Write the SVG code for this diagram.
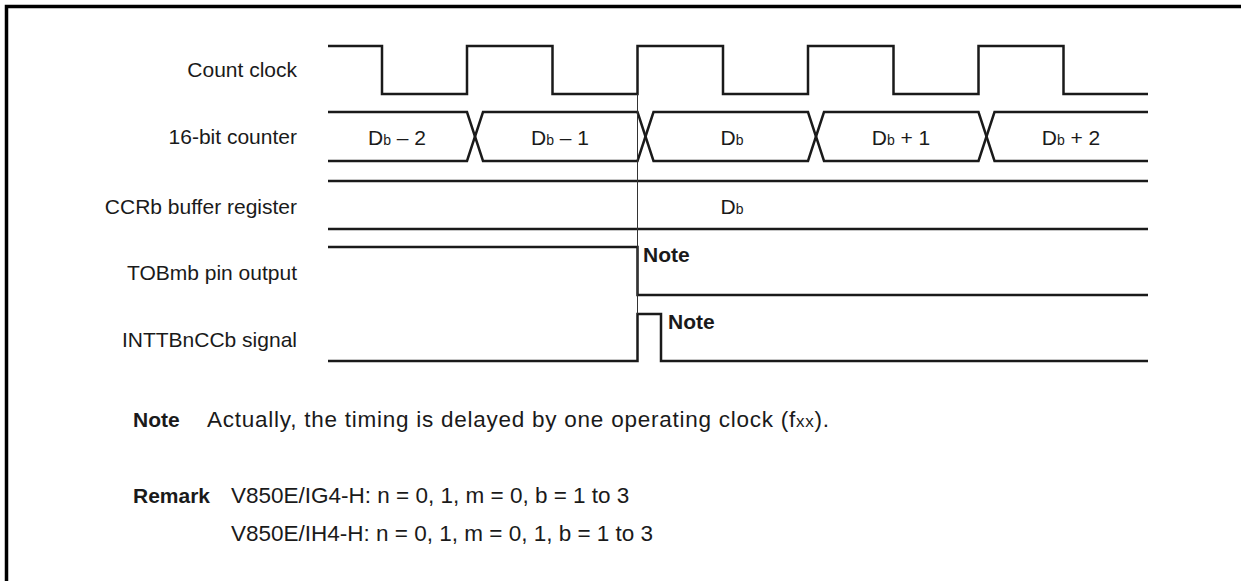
<svg xmlns="http://www.w3.org/2000/svg" width="1241" height="581" viewBox="0 0 1241 581">
<style>
.sig{fill:none;stroke:#1a1a1a;stroke-width:2.5;stroke-linejoin:miter}
.thin{fill:none;stroke:#333;stroke-width:1}
.lbl{font-family:"Liberation Sans",Arial,sans-serif;font-size:21px;fill:#1a1a1a;text-anchor:end}
.val{font-family:"Liberation Sans",Arial,sans-serif;font-size:21px;fill:#1a1a1a;text-anchor:middle}
.txt{font-family:"Liberation Sans",Arial,sans-serif;font-size:21px;fill:#1a1a1a}
.body{font-family:"Liberation Sans",Arial,sans-serif;font-size:22.5px;fill:#1a1a1a}
.b{font-weight:bold}
.sub{font-size:14px}
.sub2{font-size:17px}
</style>
<rect width="1241" height="581" fill="#fff"/>
<path d="M6.5,581 V6.5 H1241" fill="none" stroke="#000" stroke-width="3.5"/>

<g id="labels">
<text class="lbl" x="297" y="77">Count clock</text>
<text class="lbl" x="297" y="144">16-bit counter</text>
<text class="lbl" x="297" y="214">CCRb buffer register</text>
<text class="lbl" x="297" y="280">TOBmb pin output</text>
<text class="lbl" x="297" y="347">INTTBnCCb signal</text>
</g>

<g id="count-clock">
<path class="sig" d="M328,46 H382 V94 H467 V46 H552.5 V94 H637.5 V46 H723 V94 H808 V46 H893.5 V94 H978.5 V46 H1063.5 V94 H1148"/>
</g>

<g id="counter">
<path class="sig" d="M328,112 H467 L475,136.5 L467,161 H328"/>
<path class="sig" d="M475,136.5 L483,112 H637.5 L645.5,136.5 L637.5,161 H483 Z"/>
<path class="sig" d="M645.5,136.5 L653.5,112 H808 L816,136.5 L808,161 H653.5 Z"/>
<path class="sig" d="M816,136.5 L824,112 H978.5 L986.5,136.5 L978.5,161 H824 Z"/>
<path class="sig" d="M1148,112 H994.5 L986.5,136.5 L994.5,161 H1148"/>
<text class="val" x="397" y="145">D<tspan class="sub">b</tspan> – 2</text>
<text class="val" x="560" y="145">D<tspan class="sub">b</tspan> – 1</text>
<text class="val" x="732" y="145">D<tspan class="sub">b</tspan></text>
<text class="val" x="901" y="145">D<tspan class="sub">b</tspan> + 1</text>
<text class="val" x="1071" y="145">D<tspan class="sub">b</tspan> + 2</text>
</g>

<g id="ccrb">
<path class="sig" d="M328,181 H1148 M328,229 H1148"/>
<text class="val" x="732" y="214">D<tspan class="sub">b</tspan></text>
</g>

<g id="tobmb">
<path class="sig" d="M328,247 H637.5 V295 H1148"/>
<text class="txt b" x="643" y="262">Note</text>
</g>

<g id="inttbnccb">
<path class="sig" d="M328,361 H637.5 V314 H661 V361 H1148"/>
<text class="txt b" x="668" y="329">Note</text>
</g>

<g id="connectors">
<line class="thin" x1="637.5" y1="94" x2="637.5" y2="314"/>
</g>

<g id="notes">
<text class="txt b" x="133" y="427">Note</text>
<text class="body" x="207" y="427" textLength="622" lengthAdjust="spacing">Actually, the timing is delayed by one operating clock (f<tspan class="sub2">xx</tspan>).</text>
<text class="txt b" x="133" y="503">Remark</text>
<text class="body" x="231" y="503">V850E/IG4-H: n = 0, 1, m = 0, b = 1 to 3</text>
<text class="body" x="231" y="541">V850E/IH4-H: n = 0, 1, m = 0, 1, b = 1 to 3</text>
</g>
</svg>
